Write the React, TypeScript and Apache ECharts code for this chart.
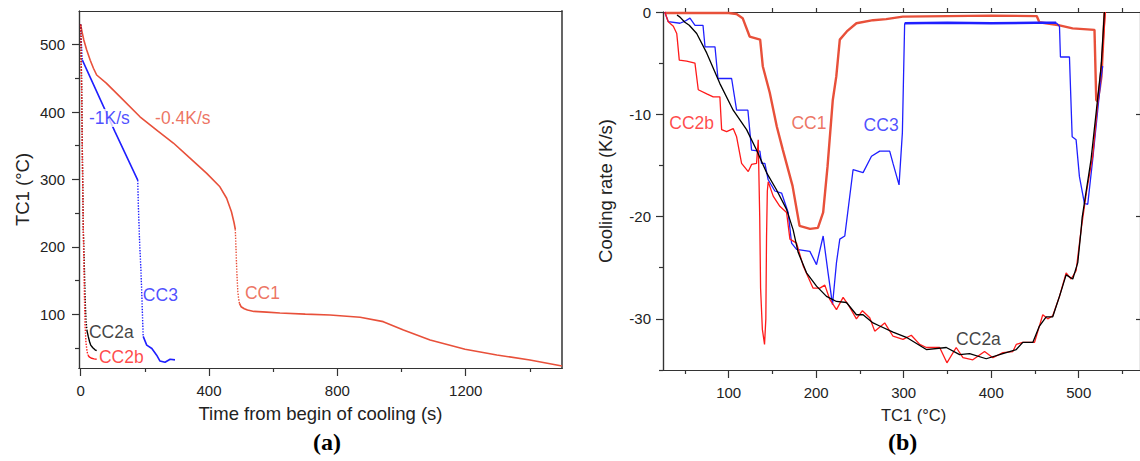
import React, { useEffect, useRef } from "react";
import * as echarts from "echarts";

// ---------- Panel (a): TC1 vs time ----------
const xLabelsA = [0, 400, 800, 1200];
const xMinorA = [200, 600, 1000, 1400];
const yLabelsA = [100, 200, 300, 400, 500];
const yMinorA = [50, 150, 250, 350, 450];

const cc1TimeSolid1 = [0, 5, 10, 19, 30, 40, 50, 80, 120, 185, 240, 289, 340, 393, 434, 455, 470, 478, 482];
const cc1TempSolid1 = [530, 518, 507, 492, 477, 465, 455, 443, 424, 393, 372, 354, 332, 309, 289, 272, 252, 236, 226];
const cc1TimeDot = [482, 484, 486, 488, 490, 492, 495];
const cc1TempDot = [226, 200, 172, 150, 133, 124, 116];
const cc1TimeSolid2 = [495, 500, 510, 520, 540, 580, 621, 700, 777, 871, 943, 1006, 1089, 1198, 1297, 1400, 1500];
const cc1TempSolid2 = [116, 111, 108, 106, 104, 103, 101.6, 100, 98.7, 95.3, 88.8, 76.4, 61.6, 47.8, 39.3, 31.9, 23];

const cc3TimeDot1 = [0, 2, 5.5];
const cc3TempDot1 = [530, 505, 477];
const cc3TimeSolid1 = [5.5, 107, 178];
const cc3TempSolid1 = [477, 371, 299];
const cc3TimeDot2 = [178, 180, 184, 188, 191, 193, 195];
const cc3TempDot2 = [299, 260, 205, 165, 125, 95, 67];
const cc3TimeSolid2 = [195, 206, 222, 237, 247, 263, 279, 294];
const cc3TempSolid2 = [67, 54, 49, 39, 30.5, 28.5, 33, 32];

const cc2aTimeDot = [0, 3, 5.5, 8.4, 11.5, 14, 16.8, 20];
const cc2aTempDot = [530, 450, 340, 226, 175, 125, 91, 75];
const cc2aTimeSolid = [20, 24, 28, 31.5, 38, 45, 50];
const cc2aTempSolid = [75, 66.5, 59, 54, 50, 47, 45.7];

const cc2bTimeDot = [0, 3, 5.5, 8.4, 11, 13.7, 16.8, 20, 23];
const cc2bTempDot = [530, 440, 330, 226, 150, 86, 57, 45, 39];
const cc2bTimeSolid = [23, 28, 34.6, 42, 50];
const cc2bTempSolid = [39, 36, 34.4, 33.5, 33];

const annotTextA = ["-1K/s", "-0.4K/s", "CC3", "CC1", "CC2a", "CC2b"];
const annotXA = [23, 232, 194, 512, 26, 57];
const annotYA = [391, 391, 128, 131, 74, 37];
const annotColorA = ["#1f1fff", "#e8503a", "#1f1fff", "#e8503a", "#111111", "#ff1a1a"];
const annotMaskA = [true, false, false, false, false, false];

// ---------- Panel (b): cooling rate vs TC1 ----------
const xLabelsB = [100, 200, 300, 400, 500];
const xMinorB = [50, 150, 250, 350, 450, 550];
const xTopB = [50, 100, 150, 200, 250, 300, 350, 400, 450, 500, 550];
const yLabelsB = [-30, -20, -10, 0];
const yMinorB = [-35, -25, -15, -5];
const yRightB = [-30, -20, -10];

const cc1TempB = [27, 60, 100, 109, 116, 124, 136, 139, 147, 155, 162, 173, 181, 193, 202, 208, 213, 219, 223, 227, 235, 246, 265, 280, 299, 350, 400, 452, 455, 478, 493, 518, 520, 521.5, 524, 526, 529.5];
const cc1RateB = [-0.1, -0.1, -0.1, -0.2, -0.6, -2.4, -2.7, -5.3, -7.9, -11.2, -13.5, -17.0, -20.9, -21.2, -21.1, -19.6, -15.1, -8.6, -6.3, -2.7, -1.9, -1.1, -0.8, -0.7, -0.45, -0.4, -0.35, -0.4, -1.0, -1.3, -1.6, -1.75, -8.6, -8.75, -7.5, -6.3, 0];

// CC3 in three pieces: cooling start, noisy plateau near -1 K/s, final dip
const cc3TempB1 = [27, 31, 44.4, 50, 55.8, 61.6, 70.7, 73, 84.4, 87.8, 103.4, 109.1, 122, 126.2, 135.7, 137.6, 141.4, 145.2, 152.8, 160.5, 168, 171.9, 177.6, 192.8, 200.4, 208, 213.6, 218.7, 223.2, 227, 232.7, 242.2, 253.6, 263.2, 272.6, 284, 287.8, 294.7, 298.5, 301.1];
const cc3RateB1 = [0, -0.95, -1.1, -0.9, -0.6, -1.3, -1.3, -3.4, -3.4, -6.5, -6.5, -9.6, -9.6, -13.5, -13.6, -14.8, -14.8, -16.4, -17.5, -17.7, -19.6, -22.6, -23.2, -23.4, -24.7, -21.9, -25.5, -28.6, -24.5, -22.2, -21.9, -15.4, -15.7, -14.1, -13.6, -13.6, -14.8, -16.9, -11.8, -1.1];
const cc3TempB2 = [301.1, 350, 400, 450, 474.2];
const cc3RateB2 = [-1.1, -1.05, -1.1, -1.05, -1.05];
const cc3TempB3 = [474.2, 478, 479.1, 489.4, 492.5, 497, 500.8, 506.5, 510.3, 516, 521.7, 525.6, 527.4];
const cc3RateB3 = [-1.05, -1.4, -4.4, -4.4, -12.2, -12.5, -16.1, -18.7, -18.8, -14.4, -9.6, -6.3, -5.3];

const cc2aTempB = [41, 44.4, 50, 55, 63.5, 74.9, 90, 105.2, 120.5, 131.9, 143.3, 154.8, 166.2, 173.7, 179.4, 189, 200.4, 211.8, 223.2, 234.6, 246, 253.6, 265, 272.6, 287.8, 303, 325.9, 348.7, 363.9, 375.3, 394.3, 413.3, 428.6, 436.1, 447.5, 455.1, 462.8, 470.3, 478, 485.6, 493.2, 498.9, 502.7, 503.9, 514.1, 519.8, 525.6, 529.3];
const cc2aRateB = [-0.3, -0.5, -1.0, -1.3, -2.1, -4.0, -7.0, -9.6, -11.5, -13.5, -15.7, -17.4, -19.3, -21.3, -23.5, -25.5, -26.8, -27.8, -28.3, -28.4, -29.6, -29.6, -30.4, -30.7, -31.3, -31.8, -33.0, -32.8, -33.5, -33.4, -33.9, -33.4, -33.0, -32.3, -32.3, -30.7, -29.8, -29.8, -27.8, -25.7, -26.1, -24.5, -21.3, -20.1, -14.4, -9.9, -5.3, 0];

const cc2bTempB = [27, 31, 36.8, 40.7, 41.4, 43.6, 52.1, 61.5, 65.3, 75, 82.4, 90, 92, 97.7, 105.2, 109.1, 114.8, 122.4, 126.2, 131.9, 133.8, 135.5, 136.5, 138.5, 141, 142.5, 143.3, 144.2, 145.2, 150.9, 158.5, 166.2, 170, 177.6, 185.1, 196.5, 204.2, 209.9, 215.6, 223.2, 230.8, 236.5, 246, 252.9, 261.2, 266.9, 278.3, 287.8, 299.2, 308.7, 318.3, 325.9, 341.1, 349.4, 360, 367.7, 379, 392.4, 401.9, 413.3, 424.7, 428.6, 436.1, 449.5, 458.9, 464.6, 470.3, 478, 485.6, 491.3, 497, 502.7, 509, 516, 521, 527.4, 530.4];
const cc2bRateB = [0, -0.95, -1.4, -2.1, -2.7, -4.7, -4.8, -5.0, -7.6, -8.0, -8.3, -8.3, -11.5, -11.7, -11.4, -12.2, -14.8, -15.6, -14.9, -14.8, -12.5, -20, -27, -31, -32.5, -30, -22, -17.5, -16.6, -18.0, -19.0, -19.6, -22.2, -22.6, -24.8, -27.0, -27.0, -26.7, -28.1, -29.1, -27.9, -28.6, -30.0, -29.2, -29.9, -31.2, -30.4, -31.7, -32.0, -31.6, -32.5, -32.8, -32.8, -34.3, -32.8, -33.8, -34.0, -33.2, -33.8, -33.3, -33.2, -32.5, -32.3, -32.3, -29.6, -30.0, -29.7, -27.8, -25.5, -26.1, -25.3, -21.3, -17.5, -14.1, -9.5, -3.7, 0];

const annotTextB = ["CC2b", "CC1", "CC3", "CC2a"];
const annotXB = [32.2, 171.7, 254.2, 359.9];
const annotYB = [-10.88, -10.85, -11.05, -32.0];
const annotColorB = ["#ff1a1a", "#e8503a", "#1f1fff", "#111111"];
const annotMaskB = [false, false, false, false];

// ---------- styling ----------
const SANS = "'Liberation Sans', Arial, sans-serif";
const SERIF = "'Liberation Serif', 'Times New Roman', serif";
const AXIS = "#333333";
const TEXT = "#222222";
const ORANGE = "#e8503a";
const RED = "#ff1a1a";
const BLUE = "#1f1fff";
const BLACK = "#000000";

const zip = (xs: number[], ys: number[]) => xs.map((x, i) => [x, ys[i]]);

function axisBase(gridIndex: number, min: number, max: number, position: string) {
  return {
    gridIndex,
    type: "value",
    min,
    max,
    position,
    splitLine: { show: false },
    axisLine: { show: true, onZero: false, lineStyle: { color: AXIS, width: 1.2 } },
    axisTick: { show: false },
    axisLabel: { show: false },
  };
}

function line(name: string, xs: number[], ys: number[], color: string, width: number, dotted: boolean, ax: number) {
  return {
    name,
    type: "line",
    xAxisIndex: ax,
    yAxisIndex: ax,
    data: zip(xs, ys),
    showSymbol: false,
    symbol: "none",
    silent: true,
    lineStyle: { color, width, type: dotted ? "dotted" : "solid" },
  };
}

function annotations(texts: string[], xs: number[], ys: number[], colors: string[], masks: boolean[], ax: number) {
  return {
    type: "scatter",
    xAxisIndex: ax,
    yAxisIndex: ax,
    symbolSize: 0,
    silent: true,
    z: 5,
    data: texts.map((t, i) => ({
      value: [xs[i], ys[i]],
      label: {
        show: true,
        formatter: t,
        position: "right",
        distance: 0,
        color: colors[i],
        fontSize: 17.5,
        fontFamily: SANS,
        backgroundColor: masks[i] ? "#ffffff" : "transparent",
        padding: masks[i] ? [0, 1] : 0,
      },
    })),
  };
}

const plain = (v: number) => String(v);

export default function App() {
  const ref = useRef<HTMLDivElement>(null);
  useEffect(() => {
    document.body.style.margin = "0";
    const chart = echarts.init(ref.current!, undefined, { renderer: "svg" });
    const labelStyle = { color: TEXT, fontSize: 15, fontFamily: SANS, formatter: plain };
    const tickStyle = { color: AXIS, width: 1.2 };

    const xAxis: any[] = [
      // panel a
      {
        ...axisBase(0, -5, 1500, "bottom"),
        axisTick: { show: true, customValues: xLabelsA, length: 8, lineStyle: tickStyle },
        axisLabel: { show: true, customValues: xLabelsA, margin: 15, ...labelStyle },
        name: "Time from begin of cooling (s)",
        nameLocation: "middle",
        nameGap: 36,
        nameTextStyle: { color: TEXT, fontSize: 18.5, fontFamily: SANS },
      },
      { ...axisBase(0, -5, 1500, "bottom"), axisTick: { show: true, customValues: xMinorA, length: 4, lineStyle: tickStyle } },
      { ...axisBase(0, -5, 1500, "top") },
      // panel b
      {
        ...axisBase(1, 25, 570, "bottom"),
        axisTick: { show: true, customValues: xLabelsB, length: 8, lineStyle: tickStyle },
        axisLabel: { show: true, customValues: xLabelsB, margin: 15, ...labelStyle },
        name: "TC1 (°C)",
        nameLocation: "middle",
        nameGap: 36,
        nameTextStyle: { color: TEXT, fontSize: 16.5, fontFamily: SANS, padding: [0, 0, 0, 24] },
      },
      { ...axisBase(1, 25, 570, "bottom"), axisTick: { show: true, customValues: xMinorB, length: 4, lineStyle: tickStyle } },
      { ...axisBase(1, 25, 570, "top"), axisTick: { show: true, customValues: xTopB, length: 4, lineStyle: tickStyle } },
    ];

    const yAxis: any[] = [
      {
        ...axisBase(0, 20, 550, "left"),
        axisTick: { show: true, customValues: yLabelsA, length: 7, lineStyle: tickStyle },
        axisLabel: { show: true, customValues: yLabelsA, margin: 14, ...labelStyle },
        name: "TC1 (°C)",
        nameLocation: "middle",
        nameGap: 47,
        nameTextStyle: { color: TEXT, fontSize: 18.5, fontFamily: SANS },
      },
      { ...axisBase(0, 20, 550, "left"), axisTick: { show: true, customValues: yMinorA, length: 4, lineStyle: tickStyle } },
      { ...axisBase(0, 20, 550, "right"), axisLine: { show: true, onZero: false, lineStyle: { color: "#555555", width: 1.8 } } },
      {
        ...axisBase(1, -35, 0, "left"),
        axisTick: { show: true, customValues: yLabelsB, length: 7, lineStyle: tickStyle },
        axisLabel: { show: true, customValues: yLabelsB, margin: 12, ...labelStyle },
        name: "Cooling rate (K/s)",
        nameLocation: "middle",
        nameGap: 48,
        nameTextStyle: { color: TEXT, fontSize: 18.5, fontFamily: SANS },
      },
      { ...axisBase(1, -35, 0, "left"), axisTick: { show: true, customValues: yMinorB, length: 4, lineStyle: tickStyle } },
      { ...axisBase(1, -35, 0, "right"), axisTick: { show: true, inside: true, customValues: yRightB, length: 4, lineStyle: tickStyle } },
    ];

    const series: any[] = [
      // panel a
      line("CC1", cc1TimeSolid1, cc1TempSolid1, ORANGE, 1.6, false, 0),
      line("CC1", cc1TimeDot, cc1TempDot, ORANGE, 1.4, true, 0),
      line("CC1", cc1TimeSolid2, cc1TempSolid2, ORANGE, 1.6, false, 0),
      line("CC3", cc3TimeDot1, cc3TempDot1, BLUE, 1.4, true, 0),
      line("CC3", cc3TimeSolid1, cc3TempSolid1, BLUE, 1.6, false, 0),
      line("CC3", cc3TimeDot2, cc3TempDot2, BLUE, 1.4, true, 0),
      line("CC3", cc3TimeSolid2, cc3TempSolid2, BLUE, 1.6, false, 0),
      line("CC2a", cc2aTimeDot, cc2aTempDot, BLACK, 1.4, true, 0),
      line("CC2a", cc2aTimeSolid, cc2aTempSolid, BLACK, 1.4, false, 0),
      line("CC2b", cc2bTimeDot, cc2bTempDot, RED, 1.4, true, 0),
      line("CC2b", cc2bTimeSolid, cc2bTempSolid, RED, 1.4, false, 0),
      annotations(annotTextA, annotXA, annotYA, annotColorA, annotMaskA, 0),
      // panel b
      line("CC1", cc1TempB, cc1RateB, ORANGE, 2.4, false, 3),
      line("CC3", cc3TempB1, cc3RateB1, BLUE, 1.3, false, 3),
      line("CC3", cc3TempB2, cc3RateB2, BLUE, 2.4, false, 3),
      line("CC3", cc3TempB3, cc3RateB3, BLUE, 1.3, false, 3),
      line("CC2b", cc2bTempB, cc2bRateB, RED, 1.3, false, 3),
      line("CC2a", cc2aTempB, cc2aRateB, BLACK, 1.3, false, 3),
      annotations(annotTextB, annotXB, annotYB, annotColorB, annotMaskB, 3),
    ];

    chart.setOption({
      animation: false,
      backgroundColor: "#ffffff",
      grid: [
        { left: 79, top: 11, width: 483, height: 357, containLabel: false },
        { left: 663, top: 12, width: 478, height: 358, containLabel: false },
      ],
      xAxis,
      yAxis,
      series,
      graphic: [
        {
          type: "text",
          left: 313,
          top: 430,
          style: { text: "(a)", font: `bold 24px ${SERIF}`, fill: "#000" },
        },
        {
          type: "text",
          left: 888,
          top: 430,
          style: { text: "(b)", font: `bold 24px ${SERIF}`, fill: "#000" },
        },
      ],
    });
    return () => chart.dispose();
  }, []);
  return <div ref={ref} style={{ position: "absolute", left: 0, top: 0, width: 1140, height: 461 }} />;
}
